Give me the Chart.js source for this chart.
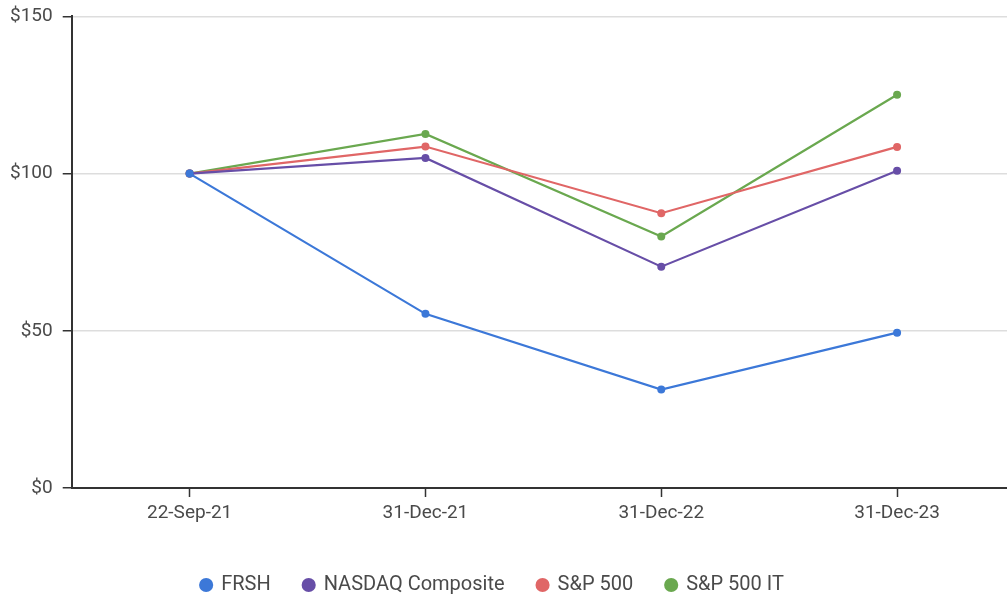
<!DOCTYPE html>
<html>
<head>
<meta charset="utf-8">
<script src="https://cdn.jsdelivr.net/npm/chart.js@4/dist/chart.umd.min.js"></script>
<style>
  html, body { margin: 0; padding: 0; background: #fff; overflow: hidden; }
  /* a bit larger than the window, the original plot runs off the right edge */
  #wrap { width: 1019px; height: 601px; margin-top: -5px; }
</style>
</head>
<body>
<div id="wrap"><canvas id="line-chart"></canvas></div>
<script>
/************************************************************
    Cumulative return line chart
*************************************************************/

var dates = ['22-Sep-21', '31-Dec-21', '31-Dec-22', '31-Dec-23'];

var frsh = [100, 55.4, 31.3, 49.4];
var nasdaq = [100, 105.0, 70.4, 100.9];
var sp500 = [100, 108.6, 87.4, 108.5];
var sp500IT = [100, 112.6, 80.0, 125.1];

var yTicks = [0, 50, 100, 150];

var textColor = '#4a4a4a';
var axisColor = '#333333';

//nudge the legend so it sits like in the original
var legendNudge = {
    id: 'legendNudge',
    afterLayout: function (chart) {
        chart.legend.left -= 17;
        chart.legend.right -= 17;
        chart.legend.top += 9;
        chart.legend.bottom += 9;
    }
};

function serie(label, data, color) {
    return {
        label: label,
        data: data,
        borderColor: color,
        backgroundColor: color,
        borderWidth: 2.2,
        pointRadius: 4,
        pointBorderWidth: 0,
        pointBackgroundColor: color,
        tension: 0
    };
}

Chart.defaults.font.family = 'Roboto';
Chart.defaults.font.size = 19;
Chart.defaults.color = textColor;

new Chart(document.getElementById("line-chart"), {
    type: 'line',
    data: {
        labels: dates,
        datasets: [
            serie('FRSH', frsh, '#3c78d8'),
            serie('NASDAQ Composite', nasdaq, '#674ea7'),
            serie('S&P 500', sp500, '#e06666'),
            serie('S&P 500 IT', sp500IT, '#6aa84f')
        ]
    },
    plugins: [legendNudge],
    options: {
        responsive: true,
        maintainAspectRatio: false,
        animation: false,
        layout: {
            padding: { left: 0, right: 0, top: 1, bottom: 0 }
        },
        plugins: {
            legend: {
                position: 'bottom',
                labels: {
                    usePointStyle: true,
                    pointStyle: 'circle',
                    boxWidth: 10,
                    boxHeight: 10,
                    padding: 33,
                    color: textColor,
                    font: { size: 20 }
                }
            },
            tooltip: { enabled: false }
        },
        scales: {
            x: {
                offset: true,
                grid: {
                    offset: false,
                    drawOnChartArea: false,
                    drawTicks: true,
                    tickLength: 9,
                    tickColor: axisColor,
                    tickWidth: 1.5
                },
                border: { color: axisColor, width: 2 },
                ticks: { padding: 5, color: textColor, maxRotation: 0 },
                afterFit: function (scale) { scale.height = 45; }
            },
            y: {
                min: 0,
                max: 150,
                afterBuildTicks: function (scale) {
                    scale.ticks = yTicks.map(function (v) { return { value: v }; });
                },
                grid: {
                    color: '#dddddd',
                    lineWidth: 1.5,
                    drawTicks: true,
                    tickLength: 9,
                    tickColor: axisColor,
                    tickWidth: 1.5
                },
                border: { color: axisColor, width: 2 },
                ticks: {
                    padding: 10,
                    color: textColor,
                    callback: function (value) { return '$' + value; }
                }
            }
        }
    }
});
</script>
</body>
</html>
